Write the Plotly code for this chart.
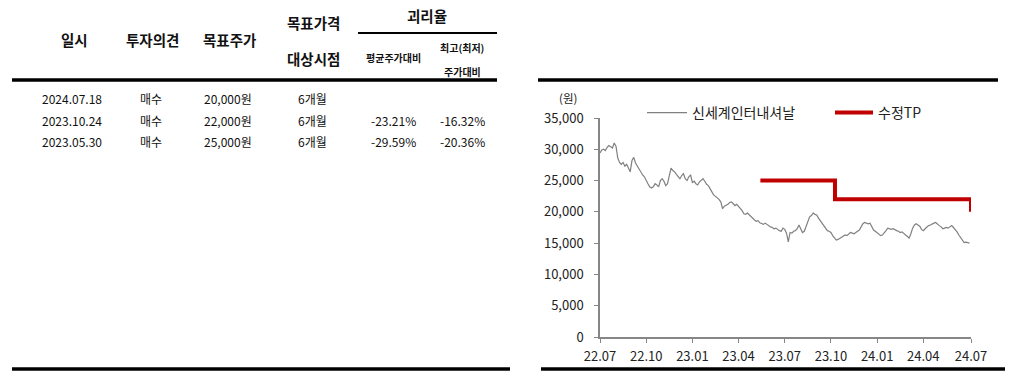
import pandas as pd
import plotly.graph_objects as go

# ---------------- data ----------------
price_start = "2022-07-18"
price_values = [
    29400, 29900, 30000, 29800, 30300, 30600, 30400, 30200, 31000, 30500,
    28600, 27900, 27600, 27900, 27300, 27600, 27000, 26400, 28200, 28700,
    27800, 27300, 26900, 26500, 25900, 25600, 24900, 24500, 24000, 23800,
    24000, 24500, 24300, 24000, 25000, 25300, 24900, 24200, 24500, 25600,
    27000, 26600, 26400, 26000, 25700, 25300, 25800, 26100, 25300, 25000,
    25600, 25900, 24700, 24900, 24500, 24300, 24800, 25100, 25300, 24900,
    24400, 24200, 23800, 23200, 22700, 22500, 22200, 22000, 21600, 20500,
    20900, 21000, 21200, 21500, 21600, 21300, 21000, 21200, 20900, 20600,
    20200, 19700, 19600, 19800, 19500, 19200, 19000, 18700, 18500, 18600,
    18250, 18100, 18000, 18200, 17950, 17700, 17600, 17500, 17300, 17400,
    17150, 17000, 16900, 17400, 17200, 16600, 15200, 16700, 16600, 16900,
    17000, 17300, 17900, 17400, 16700, 16900, 17700, 18300, 19200, 19400,
    19800, 19600, 19500, 19000, 18600, 18300, 18000, 17600, 17000, 16900,
    16700, 16200, 15900, 15500, 15600, 15800, 16000, 16200, 16300, 16200,
    16500, 16700, 16600, 16500, 16700, 16900, 17100, 17600, 18100, 18300,
    18200, 18100, 18200, 17500, 17100, 16900, 16700, 16400, 16200, 16300,
    16600, 17000, 17400, 17300, 17200, 17300, 17100, 17000, 16900, 16700,
    16800, 16500, 16300, 16100, 15800, 16500, 17400, 17900, 18100, 17900,
    17700, 17200, 17000, 17300, 17600, 17800, 17900, 18100, 18200, 18300,
    18000, 17800, 17600, 17300, 17400, 17500, 17400, 17600, 17800, 17500,
    17200, 16800, 16300, 15900, 15400, 15100, 15150, 15050, 15000,
]
price_dates = pd.date_range(price_start, periods=len(price_values), freq="84h")

tp_dates = ["2023-05-30", "2023-10-24", "2024-07-18"]
tp_values = [25000, 22000, 20000]

x_range = ["2022-07-18", "2024-07-18"]
x_tickvals = ["2022-07-18", "2022-10-17", "2023-01-16", "2023-04-17", "2023-07-17",
              "2023-10-16", "2024-01-15", "2024-04-15", "2024-07-18"]
x_ticktext = ["22.07", "22.10", "23.01", "23.04", "23.07", "23.10", "24.01", "24.04", "24.07"]

tbl_dates = ["2024.07.18", "2023.10.24", "2023.05.30"]
tbl_opinion = ["매수", "매수", "매수"]
tbl_target = ["20,000원", "22,000원", "25,000원"]
tbl_horizon = ["6개월", "6개월", "6개월"]
tbl_gap_avg = ["", "-23.21%", "-29.59%"]
tbl_gap_max = ["", "-16.32%", "-20.36%"]

# ---------------- layout geometry (pixels) ----------------
W, H = 1015, 376
L, R, T, B = 600, 971, 118, 337
PW, PH = R - L, B - T
FONT = "Noto Sans CJK KR"


def px(x):
    return (x - L) / PW


def py(y):
    return (B - y) / PH


fig = go.Figure()
fig.add_trace(go.Scatter(
    x=price_dates, y=price_values, mode="lines", name="신세계인터내셔날",
    line=dict(color="#808080", width=1.2), legend="legend", showlegend=True,
))
fig.add_trace(go.Scatter(
    x=tp_dates, y=tp_values, mode="lines", name="수정TP",
    line=dict(color="#C00000", width=4, shape="hv"), legend="legend2", showlegend=True,
))

annotations = []
shapes = []


def txt(x, y, s, size=12, bold=False, color="#111"):
    annotations.append(dict(
        x=px(x), y=py(y), xref="paper", yref="paper", text=s, showarrow=False,
        xanchor="center", yanchor="middle", borderpad=0,
        font=dict(family=FONT, size=size, color=color, weight="bold" if bold else "normal"),
    ))


def hline(x0, x1, y, w=3, color="#000"):
    shapes.append(dict(type="line", xref="paper", yref="paper",
                       x0=px(x0), x1=px(x1), y0=py(y), y1=py(y),
                       line=dict(color=color, width=w)))


# table header
txt(74, 40, "일시", 14.5, True)
txt(152, 40, "투자의견", 14.5, True)
txt(229, 40, "목표주가", 14.5, True)
txt(313, 22, "목표가격", 14.5, True)
txt(313, 59, "대상시점", 14.5, True)
txt(427, 15, "괴리율", 14.5, True)
txt(393, 57, "평균주가대비", 10, True)
txt(462, 48, "최고(최저)", 10, True)
txt(462, 71, "주가대비", 10, True)
hline(358, 497, 33, 2)
hline(12, 497, 80, 3.5)
hline(12, 510, 369, 3.5)
hline(538, 998, 80, 3.5)
hline(541, 1005, 369, 3.5)

row_y = [99, 120, 141]
for i, yy in enumerate(row_y):
    txt(72, yy, tbl_dates[i], 12)
    txt(151, yy, tbl_opinion[i], 12)
    txt(228, yy, tbl_target[i], 12)
    txt(312, yy, tbl_horizon[i], 12)
    if tbl_gap_avg[i]:
        txt(393, yy, tbl_gap_avg[i], 12)
    if tbl_gap_max[i]:
        txt(462, yy, tbl_gap_max[i], 12)

# unit label
txt(568, 98, "(원)", 11.5, color="#222")

axis_color = "#868686"
fig.update_layout(
    width=W, height=H, autosize=False, showlegend=True,
    margin=dict(l=L, r=W - R, t=T, b=H - B, pad=0),
    paper_bgcolor="white", plot_bgcolor="white",
    font=dict(family=FONT, size=13, color="#222"),
    annotations=annotations, shapes=shapes,
    legend=dict(orientation="h", x=px(642), y=py(113), xanchor="left", yanchor="middle",
                bgcolor="rgba(0,0,0,0)", itemwidth=40,
                font=dict(family=FONT, size=14, color="#222")),
    legend2=dict(orientation="h", x=px(830), y=py(113), xanchor="left", yanchor="middle",
                 bgcolor="rgba(0,0,0,0)", itemwidth=38,
                 font=dict(family=FONT, size=14, color="#222")),
    xaxis=dict(type="date", range=x_range, tickvals=x_tickvals, ticktext=x_ticktext,
               showgrid=False, zeroline=False, showline=True, linecolor=axis_color,
               linewidth=1.5, ticks="outside", ticklen=4, tickcolor=axis_color,
               ticklabelstandoff=3,
               tickfont=dict(family=FONT, size=13, color="#222")),
    yaxis=dict(range=[0, 35000], dtick=5000, tickformat=",d", showgrid=False,
               zeroline=False, showline=True, linecolor=axis_color, linewidth=1.5,
               ticks="outside", ticklen=4, tickcolor=axis_color,
               ticklabelstandoff=8,
               tickfont=dict(family=FONT, size=13, color="#222")),
)

fig.write_html("out.html", config={"displayModeBar": False},
               post_script="document.body.style.margin='0px';")
